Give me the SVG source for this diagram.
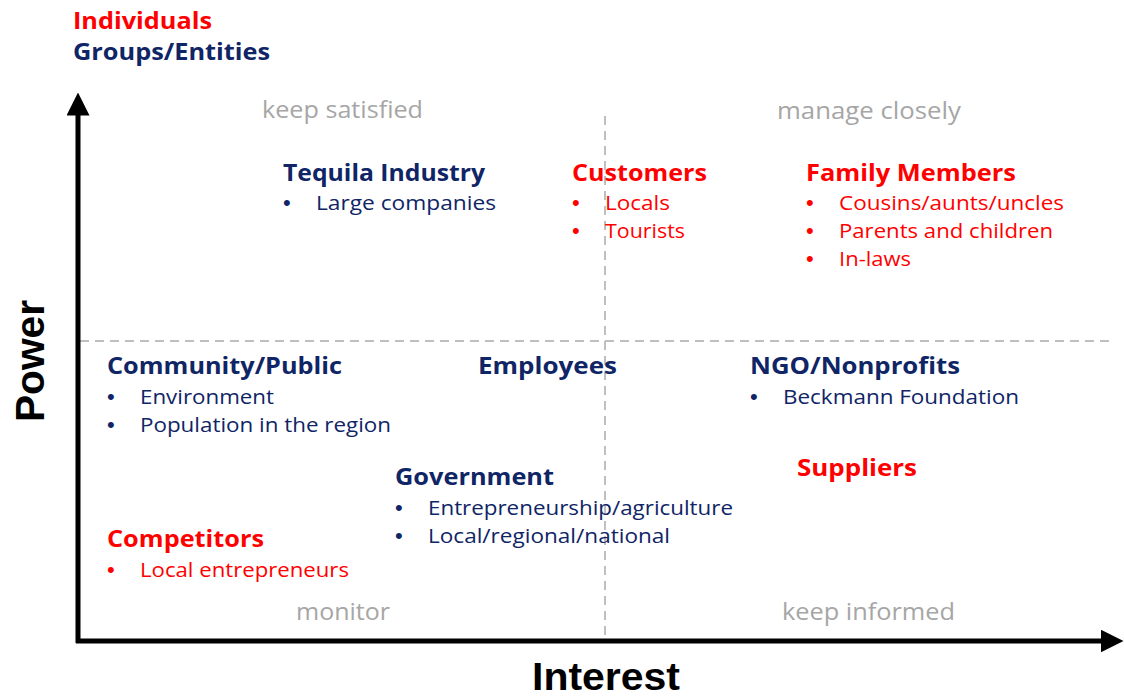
<svg xmlns="http://www.w3.org/2000/svg" width="1124" height="699" viewBox="0 0 1124 699">
<defs>
<style>
.h{font-family:"Open Sans","Liberation Sans",sans-serif;font-weight:700;font-size:23px}
.b{font-family:"Open Sans","Liberation Sans",sans-serif;font-size:20px}
.d{font-family:"Liberation Sans",Arial,sans-serif;font-size:22px}
.red{fill:#FF0000}
.navy{fill:#0F2566}
.q{font-family:"Open Sans","Liberation Sans",sans-serif;font-size:23px;fill:#A6A6A6}
.ax{font-family:"Liberation Sans",Arial,sans-serif;font-weight:700;font-size:40px;fill:#000}
.axis{stroke:#000;stroke-width:5;fill:none}
.dash{stroke:#BFBFBF;stroke-width:2;stroke-dasharray:9 6;fill:none}
</style>
<marker id="arr" viewBox="0 0 10 10" refX="5" refY="5" markerWidth="4.6" markerHeight="4.6" orient="auto" markerUnits="strokeWidth">
<path d="M0,0 L10,5 L0,10 Z" fill="#000"/>
</marker>
</defs>
<rect width="1124" height="699" fill="#fff"/>
<g id="legend">
<text class="h red" x="73" y="29" textLength="139" lengthAdjust="spacingAndGlyphs">Individuals</text>
<text class="h navy" x="73" y="60" textLength="197" lengthAdjust="spacingAndGlyphs">Groups/Entities</text>
</g>
<g id="connectors">
<line class="dash" x1="605" y1="116" x2="605" y2="639"/>
<line class="dash" x1="80" y1="341" x2="1115" y2="341"/>
<line class="axis" x1="78" y1="643" x2="78" y2="104" marker-end="url(#arr)"/>
<line class="axis" x1="76" y1="641" x2="1112" y2="641" marker-end="url(#arr)"/>
</g>
<g id="quadrants">
<text class="q" x="262" y="118" textLength="161" lengthAdjust="spacingAndGlyphs">keep satisfied</text>
<text class="q" x="777" y="119" textLength="184" lengthAdjust="spacingAndGlyphs">manage closely</text>
<text class="q" x="296" y="620" textLength="94" lengthAdjust="spacingAndGlyphs">monitor</text>
<text class="q" x="782" y="620" textLength="173" lengthAdjust="spacingAndGlyphs">keep informed</text>
</g>
<g id="axis-labels">
<text class="ax" x="532" y="690" style="font-size:38px" textLength="148" lengthAdjust="spacingAndGlyphs">Interest</text>
<text class="ax" transform="translate(44,422) rotate(-90)" x="0" y="0" textLength="122" lengthAdjust="spacingAndGlyphs">Power</text>
</g>
<g id="tequila">
<text class="h navy" x="283" y="181" textLength="202" lengthAdjust="spacingAndGlyphs">Tequila Industry</text>
<text class="d navy" x="283" y="210">•</text><text class="b navy" x="316" y="210" textLength="180" lengthAdjust="spacingAndGlyphs">Large companies</text>
</g>
<g id="customers">
<text class="h red" x="572" y="181" textLength="135" lengthAdjust="spacingAndGlyphs">Customers</text>
<text class="d red" x="572" y="210">•</text><text class="b red" x="605" y="210" textLength="65" lengthAdjust="spacingAndGlyphs">Locals</text>
<text class="d red" x="572" y="238">•</text><text class="b red" x="605" y="238" textLength="80" lengthAdjust="spacingAndGlyphs">Tourists</text>
</g>
<g id="family">
<text class="h red" x="806" y="181" textLength="210" lengthAdjust="spacingAndGlyphs">Family Members</text>
<text class="d red" x="806" y="210">•</text><text class="b red" x="839" y="210" textLength="225" lengthAdjust="spacingAndGlyphs">Cousins/aunts/uncles</text>
<text class="d red" x="806" y="238">•</text><text class="b red" x="839" y="238" textLength="214" lengthAdjust="spacingAndGlyphs">Parents and children</text>
<text class="d red" x="806" y="266">•</text><text class="b red" x="839" y="266" textLength="72" lengthAdjust="spacingAndGlyphs">In-laws</text>
</g>
<g id="community">
<text class="h navy" x="107" y="374" textLength="235" lengthAdjust="spacingAndGlyphs">Community/Public</text>
<text class="d navy" x="107" y="404">•</text><text class="b navy" x="140" y="404" textLength="134" lengthAdjust="spacingAndGlyphs">Environment</text>
<text class="d navy" x="107" y="432">•</text><text class="b navy" x="140" y="432" textLength="251" lengthAdjust="spacingAndGlyphs">Population in the region</text>
</g>
<g id="employees">
<text class="h navy" x="478" y="374" textLength="139" lengthAdjust="spacingAndGlyphs">Employees</text>
</g>
<g id="ngo">
<text class="h navy" x="750" y="374" textLength="210" lengthAdjust="spacingAndGlyphs">NGO/Nonprofits</text>
<text class="d navy" x="750" y="404">•</text><text class="b navy" x="783" y="404" textLength="236" lengthAdjust="spacingAndGlyphs">Beckmann Foundation</text>
</g>
<g id="suppliers">
<text class="h red" x="797" y="476" textLength="120" lengthAdjust="spacingAndGlyphs">Suppliers</text>
</g>
<g id="government">
<text class="h navy" x="395" y="485" textLength="159" lengthAdjust="spacingAndGlyphs">Government</text>
<text class="d navy" x="395" y="515">•</text><text class="b navy" x="428" y="515" textLength="305" lengthAdjust="spacingAndGlyphs">Entrepreneurship/agriculture</text>
<text class="d navy" x="395" y="543">•</text><text class="b navy" x="428" y="543" textLength="242" lengthAdjust="spacingAndGlyphs">Local/regional/national</text>
</g>
<g id="competitors">
<text class="h red" x="107" y="547" textLength="157" lengthAdjust="spacingAndGlyphs">Competitors</text>
<text class="d red" x="107" y="577">•</text><text class="b red" x="140" y="577" textLength="209" lengthAdjust="spacingAndGlyphs">Local entrepreneurs</text>
</g>
</svg>
